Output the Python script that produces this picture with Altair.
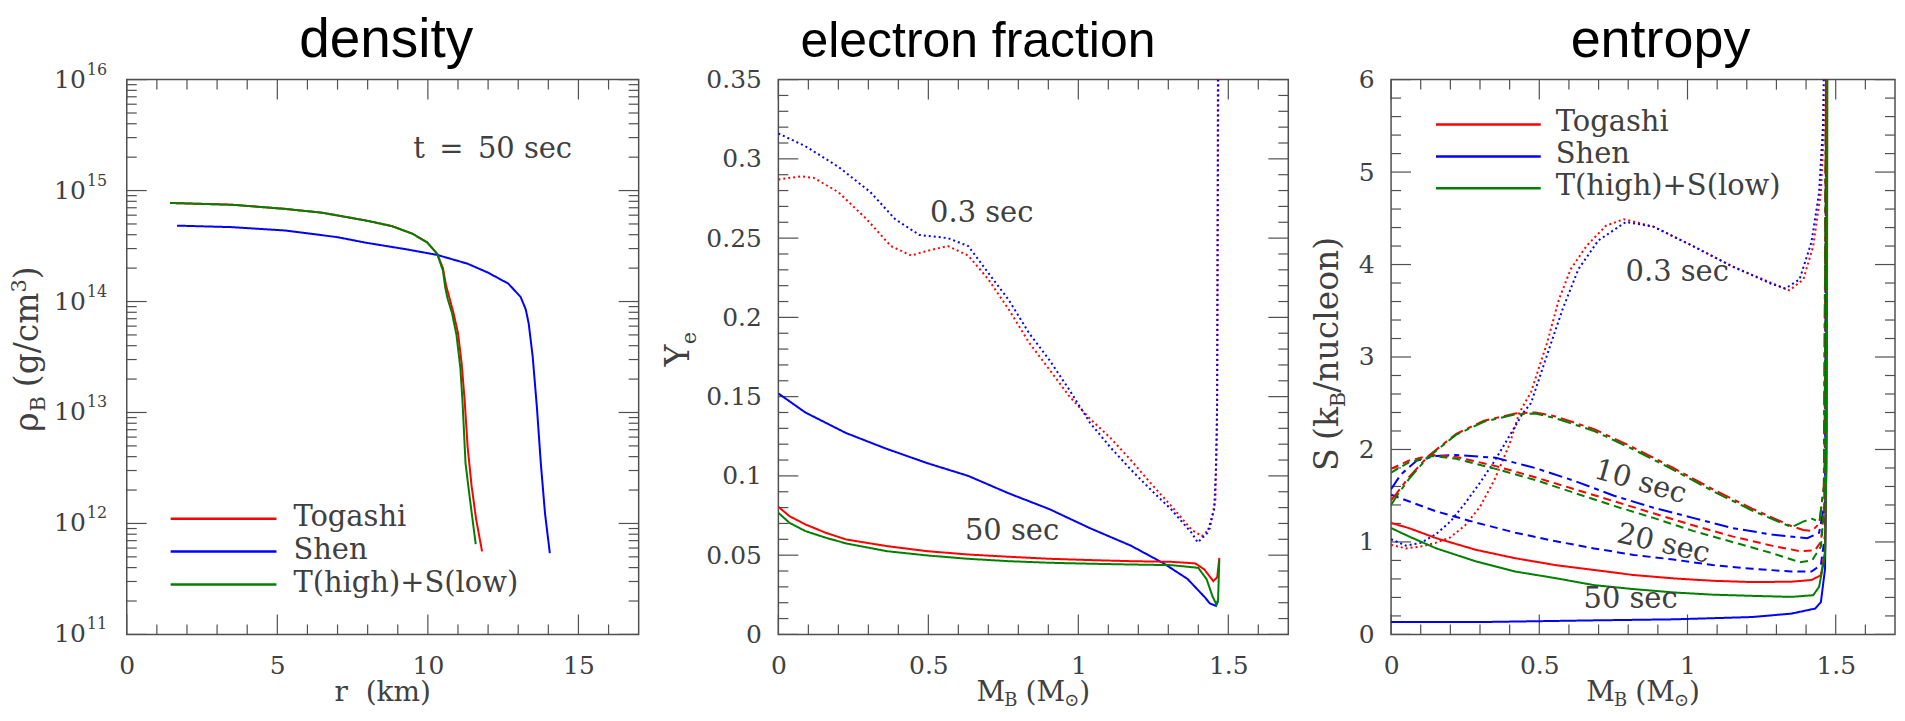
import altair as alt
import pandas as pd

# ---------------- values ----------------
EOS = ["Togashi", "Shen", "T(high)+S(low)"]
EOS_COLORS = ["#ff0000", "#0000ff", "#008000"]
TIMES = ["0.3 sec", "10 sec", "20 sec", "50 sec"]
TIME_DASH = [[2, 3], [14, 5, 5, 5], [8, 5], [1, 0]]

# density panel (t = 50 sec): r [km], rho_B [g/cm^3]
den_toga_r = [1.44, 3.5, 5.25, 6.5, 7.94, 8.8, 9.5, 9.97, 10.31, 10.50, 10.60, 10.72, 10.85, 11.00, 11.12, 11.22, 11.32, 11.45, 11.60, 11.80]
den_toga_rho = [7.73e14, 7.45e14, 6.84e14, 6.31e14, 5.37e14, 4.79e14, 4.07e14, 3.42e14, 2.69e14, 2.0e14, 1.41e14, 1.07e14, 7.9e13, 5.2e13, 2.8e13, 1.3e13, 4.9e12, 2.2e12, 1.1e12, 5.6e11]
den_ts_r = [1.44, 3.5, 5.25, 6.5, 7.94, 8.8, 9.5, 9.97, 10.31, 10.50, 10.58, 10.66, 10.80, 10.95, 11.08, 11.15, 11.25, 11.38, 11.50, 11.59]
den_ts_rho = [7.73e14, 7.45e14, 6.84e14, 6.31e14, 5.37e14, 4.79e14, 4.07e14, 3.42e14, 2.69e14, 1.9e14, 1.32e14, 1.05e14, 7.9e13, 5.0e13, 2.5e13, 1.26e13, 3.5e12, 1.8e12, 1.0e12, 6.5e11]
den_shen_r = [1.67, 3.5, 5.25, 7.0, 7.94, 9.3, 10.31, 11.32, 12.0, 12.67, 13.08, 13.25, 13.35, 13.48, 13.62, 13.75, 13.89, 14.05]
den_shen_rho = [4.83e14, 4.68e14, 4.37e14, 3.8e14, 3.39e14, 2.95e14, 2.63e14, 2.19e14, 1.82e14, 1.45e14, 1.1e14, 8.5e13, 6.3e13, 3.2e13, 1.12e13, 3.5e12, 1.23e12, 5.4e11]

# electron fraction panel: M_B [M_sun], Y_e
ye_toga03_m = [0, 0.077, 0.118, 0.2, 0.294, 0.375, 0.443, 0.497, 0.565, 0.633, 0.70, 0.768, 0.836, 0.904, 0.971, 1.039, 1.107, 1.175, 1.243, 1.31, 1.378, 1.412, 1.439, 1.457, 1.462, 1.468]
ye_toga03_v = [0.287, 0.289, 0.288, 0.279, 0.262, 0.245, 0.239, 0.242, 0.245, 0.239, 0.224, 0.205, 0.184, 0.167, 0.150, 0.136, 0.124, 0.110, 0.095, 0.081, 0.066, 0.062, 0.067, 0.085, 0.127, 0.40]
ye_shen03_m = [0, 0.09, 0.2, 0.307, 0.389, 0.47, 0.565, 0.633, 0.70, 0.768, 0.836, 0.904, 0.971, 1.039, 1.107, 1.175, 1.243, 1.31, 1.378, 1.398, 1.43, 1.453, 1.459, 1.463, 1.466]
ye_shen03_v = [0.316, 0.308, 0.295, 0.279, 0.262, 0.252, 0.250, 0.245, 0.228, 0.211, 0.190, 0.173, 0.154, 0.1335, 0.118, 0.104, 0.091, 0.0788, 0.064, 0.058, 0.064, 0.079, 0.106, 0.148, 0.40]
ye_toga50_m = [0, 0.037, 0.09, 0.158, 0.226, 0.362, 0.497, 0.633, 0.768, 0.904, 1.039, 1.175, 1.31, 1.39, 1.42, 1.45, 1.463, 1.47]
ye_toga50_v = [0.0805, 0.0746, 0.0694, 0.0641, 0.0599, 0.0557, 0.0525, 0.0504, 0.0490, 0.0477, 0.0469, 0.0462, 0.0458, 0.0448, 0.041, 0.0336, 0.036, 0.0483]
ye_shen50_m = [0, 0.09, 0.226, 0.362, 0.497, 0.633, 0.768, 0.904, 1.039, 1.175, 1.283, 1.364, 1.419, 1.439, 1.459, 1.466]
ye_shen50_v = [0.152, 0.14, 0.127, 0.117, 0.108, 0.100, 0.089, 0.079, 0.067, 0.056, 0.045, 0.035, 0.024, 0.0195, 0.018, 0.021]
ye_ts50_m = [0, 0.037, 0.09, 0.158, 0.226, 0.362, 0.497, 0.633, 0.768, 0.904, 1.039, 1.175, 1.31, 1.40, 1.428, 1.447, 1.46, 1.466, 1.47]
ye_ts50_v = [0.0767, 0.0704, 0.0652, 0.061, 0.0574, 0.0525, 0.0498, 0.0477, 0.0462, 0.0452, 0.0446, 0.0441, 0.0437, 0.042, 0.0347, 0.0242, 0.019, 0.022, 0.047]

# entropy panel: M_B [M_sun], S [k_B/nucleon]
s_toga03_m = [0, 0.05, 0.1, 0.15, 0.2, 0.25, 0.3, 0.35, 0.4, 0.433, 0.472, 0.526, 0.566, 0.606, 0.659, 0.725, 0.785, 0.885, 1.018, 1.151, 1.284, 1.344, 1.391, 1.424, 1.45, 1.464, 1.468]
s_toga03_v = [0.97, 0.93, 0.95, 0.99, 1.05, 1.18, 1.38, 1.68, 2.06, 2.40, 2.62, 3.15, 3.62, 3.95, 4.20, 4.42, 4.49, 4.41, 4.20, 3.98, 3.80, 3.72, 3.84, 4.20, 4.78, 5.69, 6.3]
s_shen03_m = [0, 0.05, 0.1, 0.15, 0.2, 0.25, 0.3, 0.35, 0.4, 0.446, 0.472, 0.526, 0.579, 0.632, 0.699, 0.792, 0.885, 1.018, 1.151, 1.284, 1.33, 1.378, 1.418, 1.444, 1.457, 1.461]
s_shen03_v = [1.03, 0.96, 0.99, 1.08, 1.22, 1.42, 1.64, 1.88, 2.15, 2.40, 2.50, 3.02, 3.52, 3.95, 4.26, 4.46, 4.41, 4.20, 3.98, 3.79, 3.74, 3.84, 4.24, 4.78, 5.5, 6.3]
s_toga10_m = [0, 0.02, 0.06, 0.126, 0.22, 0.313, 0.419, 0.486, 0.552, 0.685, 0.818, 0.952, 1.085, 1.218, 1.351, 1.39, 1.42, 1.445, 1.46, 1.468]
s_toga10_v = [1.45, 1.53, 1.70, 1.93, 2.17, 2.31, 2.39, 2.40, 2.36, 2.22, 2.02, 1.80, 1.57, 1.36, 1.17, 1.13, 1.12, 1.20, 1.60, 6.3]
s_ts10_m = [0, 0.02, 0.06, 0.126, 0.22, 0.313, 0.419, 0.486, 0.552, 0.685, 0.818, 0.952, 1.085, 1.218, 1.351, 1.39, 1.42, 1.445, 1.46, 1.468]
s_ts10_v = [1.40, 1.50, 1.68, 1.92, 2.16, 2.30, 2.38, 2.39, 2.34, 2.20, 2.00, 1.78, 1.55, 1.34, 1.16, 1.22, 1.25, 1.22, 1.60, 6.3]
s_shen10_m = [0, 0.033, 0.087, 0.153, 0.22, 0.353, 0.486, 0.619, 0.752, 0.885, 1.018, 1.151, 1.284, 1.404, 1.444, 1.464, 1.468]
s_shen10_v = [1.57, 1.73, 1.88, 1.93, 1.94, 1.91, 1.80, 1.66, 1.50, 1.37, 1.26, 1.15, 1.08, 1.04, 1.10, 1.44, 6.3]
s_toga20_m = [0, 0.06, 0.14, 0.22, 0.353, 0.486, 0.619, 0.752, 0.885, 1.018, 1.151, 1.284, 1.38, 1.43, 1.45, 1.462, 1.468]
s_toga20_v = [1.79, 1.88, 1.94, 1.92, 1.82, 1.70, 1.57, 1.44, 1.31, 1.18, 1.06, 0.96, 0.90, 0.91, 1.00, 1.40, 6.3]
s_ts20_m = [0, 0.06, 0.14, 0.22, 0.353, 0.486, 0.619, 0.752, 0.885, 1.018, 1.151, 1.284, 1.38, 1.42, 1.45, 1.462, 1.468]
s_ts20_v = [1.75, 1.86, 1.93, 1.90, 1.79, 1.67, 1.53, 1.39, 1.26, 1.12, 1.00, 0.88, 0.78, 0.80, 0.95, 1.40, 6.3]
s_shen20_m = [0, 0.153, 0.286, 0.419, 0.552, 0.685, 0.818, 0.952, 1.085, 1.218, 1.351, 1.418, 1.45, 1.464, 1.468]
s_shen20_v = [1.51, 1.33, 1.21, 1.10, 1.01, 0.93, 0.86, 0.81, 0.75, 0.71, 0.68, 0.68, 0.75, 1.08, 6.3]
s_toga50_m = [0, 0.06, 0.153, 0.286, 0.419, 0.552, 0.685, 0.818, 0.952, 1.085, 1.218, 1.351, 1.418, 1.45, 1.464, 1.468, 1.47]
s_toga50_v = [1.205, 1.15, 1.04, 0.915, 0.824, 0.751, 0.697, 0.642, 0.606, 0.58, 0.566, 0.57, 0.588, 0.64, 0.90, 1.8, 6.3]
s_ts50_m = [0, 0.06, 0.153, 0.286, 0.419, 0.552, 0.685, 0.818, 0.952, 1.085, 1.218, 1.351, 1.424, 1.444, 1.464, 1.47, 1.472]
s_ts50_v = [1.15, 1.06, 0.93, 0.79, 0.68, 0.61, 0.533, 0.49, 0.454, 0.43, 0.417, 0.406, 0.424, 0.515, 0.86, 2.2, 6.3]
s_shen50_m = [0, 0.286, 0.685, 0.952, 1.218, 1.351, 1.431, 1.45, 1.464, 1.468, 1.47]
s_shen50_v = [0.133, 0.133, 0.152, 0.163, 0.188, 0.225, 0.28, 0.35, 0.71, 1.8, 6.3]

# axis tick values and labels
den_x_major = [0, 5, 10, 15]
den_x_minor = [1, 2, 3, 4, 6, 7, 8, 9, 11, 12, 13, 14, 16]
den_y_major = [1e11, 1e12, 1e13, 1e14, 1e15, 1e16]
den_y_exp = ["11", "12", "13", "14", "15", "16"]
den_y_minor = [m * 10.0 ** e for e in range(11, 16) for m in range(2, 10)]
m_major = [0, 0.5, 1, 1.5]
m_minor = [0.1, 0.2, 0.3, 0.4, 0.6, 0.7, 0.8, 0.9, 1.1, 1.2, 1.3, 1.4, 1.6]
ye_major = [0, 0.05, 0.1, 0.15, 0.2, 0.25, 0.3, 0.35]
ye_minor = [0.01, 0.02, 0.03, 0.04, 0.06, 0.07, 0.08, 0.09, 0.11, 0.12, 0.13, 0.14,
            0.16, 0.17, 0.18, 0.19, 0.21, 0.22, 0.23, 0.24, 0.26, 0.27, 0.28, 0.29,
            0.31, 0.32, 0.33, 0.34]
s_major = [0, 1, 2, 3, 4, 5, 6]
s_minor = [0.2, 0.4, 0.6, 0.8, 1.2, 1.4, 1.6, 1.8, 2.2, 2.4, 2.6, 2.8, 3.2, 3.4, 3.6, 3.8,
           4.2, 4.4, 4.6, 4.8, 5.2, 5.4, 5.6, 5.8]

# ---------------- styling ----------------
SERIF = "DejaVu Serif"
SANS = "Liberation Sans"
INK = "#404040"
FRAME = "#505050"
H = 556
W1, W2, W3 = 513, 511, 505

EM = {' ': .318, '\u00a0': .318, '\u2002': .5, '(': .39, ')': .39, '/': .337, '+': .838, '=': .838,
      '.': .318, 'a': .596, 'c': .56, 'e': .592, 'g': .64, 'h': .644, 'i': .32, 'k': .604,
      'l': .32, 'm': .948, 'n': .644, 'o': .602, 'r': .478, 's': .513, 't': .402, 'u': .644,
      'w': .856, 'B': .686, 'M': .995, 'S': .645, 'T': .668, 'Y': .668, 'ρ': .615, '⊙': .838}
for d in "0123456789":
    EM[d] = .636


def tw(s, size):
    return sum(EM.get(c, .6) for c in s) * size


def txt(s, x, y, size=29, align="left", baseline="middle", angle=0, font=SERIF, color=INK, dy=0):
    return alt.Chart(pd.DataFrame({"t": [s]})).mark_text(
        align=align, baseline=baseline, angle=angle, font=font, fontSize=size, color=color, dy=dy
    ).encode(text="t:N", x=alt.value(x), y=alt.value(y))


def rich(pieces, cx, cy, vertical=False):
    # pieces: (text, size, shift); text None means a blank gap of `size` px
    def adv(t, s):
        return s if t is None else tw(t, s)
    total = sum(adv(t, s) for t, s, _ in pieces)
    out, pos = [], 0.0
    for t, s, shift in pieces:
        if t is not None:
            if vertical:
                out.append(txt(t, cx + shift, cy + total / 2 - pos, size=s, baseline="alphabetic", angle=270))
            else:
                out.append(txt(t, cx - total / 2 + pos, cy + shift, size=s, baseline="alphabetic"))
        pos += adv(t, s)
    return out


def curves(items):
    rows = []
    for cid, (eos, time, xs, ys) in enumerate(items):
        for i, (x, y) in enumerate(zip(xs, ys)):
            rows.append(dict(x=x, y=y, eos=eos, time=time, curve="c%d" % cid, i=i))
    return pd.DataFrame(rows)


AXBASE = dict(ticks=False, tickSize=0, domain=False, grid=False, title=None, labelFont=SERIF,
              labelFontSize=25, labelColor=INK, labelFlush=False, labelOverlap=False)


def line_layer(df, X, Y):
    return alt.Chart(df).mark_line(clip=True, strokeWidth=2).encode(
        x=X, y=Y,
        color=alt.Color("eos:N", scale=alt.Scale(domain=EOS, range=EOS_COLORS), legend=None),
        strokeDash=alt.StrokeDash("time:N", scale=alt.Scale(domain=TIMES, range=TIME_DASH), legend=None),
        detail="curve:N", order="i:Q")


def tick_layers(xmaj, xmin, ymaj, ymin, W, X, Y):
    L = []
    for vals, ln in ((xmaj, 20), (xmin, 10)):
        df = pd.DataFrame({"x": vals})
        L.append(alt.Chart(df).mark_rule(color=FRAME, strokeWidth=1.2).encode(x=X, y=alt.value(H), y2=alt.value(H - ln)))
        L.append(alt.Chart(df).mark_rule(color=FRAME, strokeWidth=1.2).encode(x=X, y=alt.value(0), y2=alt.value(ln)))
    for vals, ln in ((ymaj, 20), (ymin, 10)):
        df = pd.DataFrame({"y": vals})
        L.append(alt.Chart(df).mark_rule(color=FRAME, strokeWidth=1.2).encode(y=Y, x=alt.value(0), x2=alt.value(ln)))
        L.append(alt.Chart(df).mark_rule(color=FRAME, strokeWidth=1.2).encode(y=Y, x=alt.value(W - ln), x2=alt.value(W)))
    return L


def legend(x0, x1, ys, xt):
    L = []
    for name, col, yy in zip(EOS, EOS_COLORS, ys):
        L.append(alt.Chart(pd.DataFrame({"a": [0]})).mark_rule(color=col, strokeWidth=2.5).encode(
            x=alt.value(x0), x2=alt.value(x1), y=alt.value(yy)))
        L.append(txt(name, xt, yy, size=29, dy=-2))
    return L


def title(s, cx, size):
    return txt(s, cx, -23, size=size, align="center", baseline="alphabetic", font=SANS, color="black")


XT_Y = 623  # baseline of the x-axis titles
mb = [("M", 28, 0), ("B", 18, 5), (None, 9, 0), ("(M", 28, 0), ("⊙", 18, 5), (")", 28, 0)]

# ---------------- panel 1: density ----------------
xs1 = alt.Scale(domain=[0, 17], nice=False, zero=False)
ys1 = alt.Scale(type="log", domain=[1e11, 1e16], nice=False)
X1 = alt.X("x:Q", scale=xs1, axis=alt.Axis(values=den_x_major, format="d", labelPadding=19, **AXBASE))
Y1 = alt.Y("y:Q", scale=ys1, axis=None)
df1 = curves([("Togashi", "50 sec", den_toga_r, den_toga_rho),
              ("Shen", "50 sec", den_shen_r, den_shen_rho),
              ("T(high)+S(low)", "50 sec", den_ts_r, den_ts_rho)])
ylab = pd.DataFrame({"y": den_y_major, "e": den_y_exp})
p1_layers = tick_layers(den_x_major, den_x_minor, den_y_major, den_y_minor, W1, X1, Y1)
p1_layers += [line_layer(df1, X1, Y1)]
p1_layers += [
    alt.Chart(ylab).mark_text(align="right", baseline="middle", font=SERIF, fontSize=25, color=INK).encode(
        y=Y1, x=alt.value(-41), text=alt.value("10")),
    alt.Chart(ylab).mark_text(align="left", baseline="middle", font=SERIF, fontSize=16, color=INK, dy=-10).encode(
        y=Y1, x=alt.value(-40), text="e:N"),
]
p1_layers += legend(44, 150, [440, 473, 506], 167)
p1_layers += [txt("t\u2002=\u200250\u00a0sec", 287, 70)]
p1_layers += rich([("ρ", 33, 0), ("B", 21, 7), (None, 10, 0), ("(g/cm", 33, 0), ("3", 21, -12), (")", 33, 0)],
                  -89, 270, vertical=True)
p1_layers += rich([("r\u00a0\u00a0(km)", 28, 0)], W1 / 2, XT_Y)
p1_layers += [title("density", 260, 55)]
p1 = alt.layer(*p1_layers).properties(width=W1, height=H)

# ---------------- panel 2: electron fraction ----------------
xs2 = alt.Scale(domain=[0, 1.7], nice=False, zero=False)
ys2 = alt.Scale(domain=[0, 0.35], nice=False, zero=False)
X2 = alt.X("x:Q", scale=xs2, axis=alt.Axis(values=m_major, format="~g", labelPadding=19, **AXBASE))
Y2 = alt.Y("y:Q", scale=ys2, axis=alt.Axis(values=ye_major, format="~g", labelPadding=17, **AXBASE))
df2 = curves([("Togashi", "0.3 sec", ye_toga03_m, ye_toga03_v),
              ("Shen", "0.3 sec", ye_shen03_m, ye_shen03_v),
              ("Shen", "50 sec", ye_shen50_m, ye_shen50_v),
              ("Togashi", "50 sec", ye_toga50_m, ye_toga50_v),
              ("T(high)+S(low)", "50 sec", ye_ts50_m, ye_ts50_v)])
p2_layers = tick_layers(m_major, m_minor, ye_major, ye_minor, W2, X2, Y2)
p2_layers += [line_layer(df2, X2, Y2)]
p2_layers += [txt("0.3\u00a0sec", 152, 134), txt("50\u00a0sec", 187, 452)]
p2_layers += rich([("Y", 33, 0), ("e", 21, 7)], -90, 270, vertical=True)
p2_layers += rich(mb, W2 / 2, XT_Y)
p2_layers += [title("electron fraction", 200, 50)]
p2 = alt.layer(*p2_layers).properties(width=W2, height=H)

# ---------------- panel 3: entropy ----------------
xs3 = alt.Scale(domain=[0, 1.7], nice=False, zero=False)
ys3 = alt.Scale(domain=[0, 6], nice=False, zero=False)
X3 = alt.X("x:Q", scale=xs3, axis=alt.Axis(values=m_major, format="~g", labelPadding=19, **AXBASE))
Y3 = alt.Y("y:Q", scale=ys3, axis=alt.Axis(values=s_major, format="d", labelPadding=17, **AXBASE))
df3 = curves([("Togashi", "0.3 sec", s_toga03_m, s_toga03_v),
              ("Shen", "0.3 sec", s_shen03_m, s_shen03_v),
              ("Shen", "10 sec", s_shen10_m, s_shen10_v),
              ("Shen", "20 sec", s_shen20_m, s_shen20_v),
              ("Togashi", "10 sec", s_toga10_m, s_toga10_v),
              ("T(high)+S(low)", "10 sec", s_ts10_m, s_ts10_v),
              ("Togashi", "20 sec", s_toga20_m, s_toga20_v),
              ("T(high)+S(low)", "20 sec", s_ts20_m, s_ts20_v),
              ("Shen", "50 sec", s_shen50_m, s_shen50_v),
              ("Togashi", "50 sec", s_toga50_m, s_toga50_v),
              ("T(high)+S(low)", "50 sec", s_ts50_m, s_ts50_v)])
p3_layers = tick_layers(m_major, m_minor, s_major, s_minor, W3, X3, Y3)
p3_layers += [line_layer(df3, X3, Y3)]
p3_layers += legend(45, 150, [45, 77, 109], 165)
p3_layers += [txt("0.3\u00a0sec", 235, 193),
              txt("10\u00a0sec", 250, 403, align="center", angle=16),
              txt("20\u00a0sec", 273, 465, align="center", angle=13),
              txt("50\u00a0sec", 240, 521, align="center")]
p3_layers += rich([("S", 33, 0), (None, 10, 0), ("(k", 33, 0), ("B", 21, 7), ("/nucleon)", 33, 0)],
                  -53, 275, vertical=True)
p3_layers += rich(mb, W3 / 2, XT_Y)
p3_layers += [title("entropy", 270, 54)]
p3 = alt.layer(*p3_layers).properties(width=W3, height=H)

chart = alt.hconcat(p1, p2, p3, spacing=21).properties(
    padding={"left": 0, "top": 3, "right": 0, "bottom": 0}, background="white"
).configure_view(stroke=FRAME, strokeWidth=1.5)

chart.save("out.html", embed_options={"renderer": "svg", "actions": False})
